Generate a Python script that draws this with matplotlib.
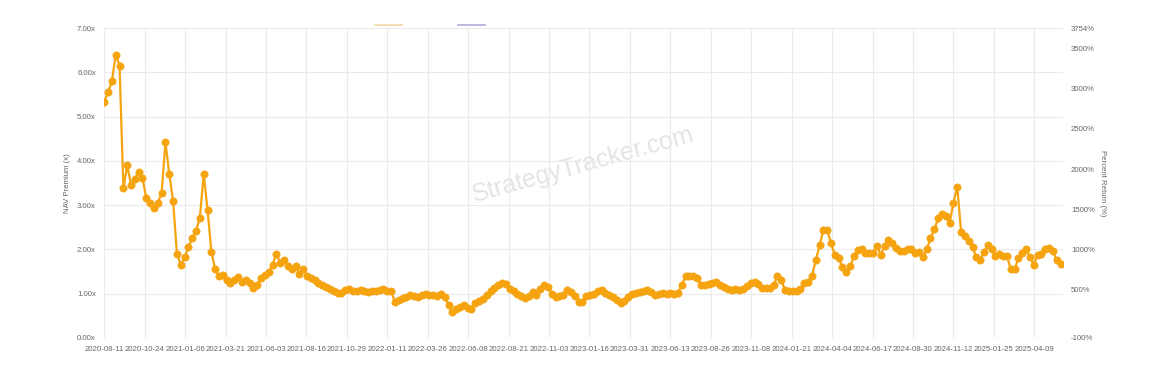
import matplotlib
matplotlib.use("Agg")
import matplotlib.pyplot as plt
import matplotlib.dates as mdates
from matplotlib.lines import Line2D
import pandas as pd
import numpy as np

plt.rcParams['font.family'] = ['Liberation Sans', 'DejaVu Sans']

# ---- data (weekly readings of NAV premium, x) ----
start_date = "2020-08-11"
nav_premium = [
    5.34, 5.55, 5.80, 6.40, 6.15, 3.38, 3.90, 3.46, 3.60, 3.75,
    3.62, 3.15, 3.05, 2.93, 3.05, 3.27, 4.42, 3.70, 3.10, 1.90,
    1.65, 1.82, 2.05, 2.25, 2.42, 2.72, 3.70, 2.90, 1.95, 1.55,
    1.40, 1.42, 1.30, 1.24, 1.30, 1.38, 1.27, 1.30, 1.25, 1.12,
    1.20, 1.35, 1.42, 1.50, 1.65, 1.90, 1.70, 1.75, 1.62, 1.55,
    1.62, 1.45, 1.55, 1.39, 1.35, 1.30, 1.24, 1.20, 1.16, 1.10,
    1.07, 1.02, 1.02, 1.08, 1.10, 1.06, 1.05, 1.08, 1.06, 1.04,
    1.07, 1.05, 1.08, 1.10, 1.07, 1.05, 0.82, 0.86, 0.90, 0.93,
    0.96, 0.95, 0.92, 0.96, 0.99, 0.98, 0.97, 0.95, 0.99, 0.93,
    0.75, 0.58, 0.65, 0.70, 0.75, 0.68, 0.66, 0.78, 0.84, 0.89,
    0.98, 1.05, 1.12, 1.20, 1.25, 1.22, 1.10, 1.05, 1.00, 0.95,
    0.90, 0.95, 1.03, 0.98, 1.10, 1.20, 1.16, 1.00, 0.93, 0.95,
    0.98, 1.08, 1.03, 0.95, 0.82, 0.82, 0.95, 0.98, 1.00, 1.07,
    1.08, 1.02, 0.98, 0.93, 0.86, 0.80, 0.84, 0.92, 0.99, 1.02,
    1.03, 1.05, 1.08, 1.03, 0.97, 1.00, 1.02, 1.00, 1.01, 1.00,
    1.02, 1.20, 1.40, 1.41, 1.40, 1.36, 1.20, 1.20, 1.22, 1.24,
    1.27, 1.20, 1.16, 1.10, 1.08, 1.10, 1.08, 1.10, 1.18, 1.24,
    1.27, 1.22, 1.12, 1.12, 1.14, 1.20, 1.40, 1.30, 1.08, 1.05,
    1.05, 1.05, 1.10, 1.25, 1.27, 1.40, 1.75, 2.10, 2.44, 2.44,
    2.14, 1.88, 1.80, 1.60, 1.50, 1.62, 1.85, 1.98, 2.00, 1.92,
    1.92, 1.93, 2.08, 1.88, 2.08, 2.22, 2.15, 2.04, 1.96, 1.97,
    2.00, 2.01, 1.93, 1.95, 1.82, 2.00, 2.25, 2.45, 2.70, 2.80,
    2.75, 2.60, 3.05, 3.42, 2.40, 2.30, 2.20, 2.05, 1.82, 1.75,
    1.95, 2.10, 2.00, 1.85, 1.90, 1.85, 1.85, 1.55, 1.55, 1.80,
    1.92, 2.00, 1.84, 1.65, 1.88, 1.90, 2.02, 2.03, 1.96, 1.75,
    1.68,
]
left_ticks = [0, 1, 2, 3, 4, 5, 6, 7]
right_ticks = [-100, 500, 1000, 1500, 2000, 2500, 3000, 3500, 3754]
tick_step_days = 74
last_tick = "2025-04-09"

dates = pd.date_range(start_date, periods=len(nav_premium), freq="7D")
xticks = pd.date_range(start_date, last_tick, freq=f"{tick_step_days}D")

ORANGE = "#F5A30F"
GRID = "#ebebeb"
TXT = "#666666"
FS = 5.6

fig = plt.figure(figsize=(11.7, 3.75), dpi=100)
fig.patch.set_facecolor("white")
ax = fig.add_axes([0.0891, 0.0987, 0.8192, 0.8266])

ax.plot(dates, nav_premium, color=ORANGE, linewidth=1.6, marker="o",
        markersize=5.2, markerfacecolor=ORANGE, markeredgecolor=ORANGE,
        markeredgewidth=0.5, zorder=3)

ax.set_xlim(dates[0], dates[-1] + pd.Timedelta(days=4))
ax.set_ylim(left_ticks[0], left_ticks[-1])
ax.set_yticks(left_ticks)
ax.set_yticklabels([f"{v:.2f}x" for v in left_ticks])
ax.set_xticks(xticks)
ax.xaxis.set_major_formatter(mdates.DateFormatter("%Y-%m-%d"))

ax.grid(True, color=GRID, linewidth=0.8, zorder=0)
ax.tick_params(axis="both", length=0, labelsize=FS, colors=TXT)
ax.tick_params(axis="x", pad=6)
ax.tick_params(axis="y", pad=6)
for s in ax.spines.values():
    s.set_visible(False)
ax.set_ylabel("NAV Premium (x)", fontsize=FS, color=TXT, labelpad=4)

ax2 = ax.twinx()
ax2.set_ylim(right_ticks[0], right_ticks[-1])
ax2.set_yticks(right_ticks)
ax2.set_yticklabels([f"{v}%" for v in right_ticks])
ax2.tick_params(axis="y", length=0, labelsize=FS, colors=TXT, pad=6)
for s in ax2.spines.values():
    s.set_visible(False)
ax2.set_ylabel("Percent Return (%)", fontsize=FS, color=TXT, rotation=270,
               labelpad=8)

# watermark
ax.text(0.5, 0.56, "StrategyTracker.com", transform=ax.transAxes,
        fontsize=18, color="#e4e4e4", rotation=15.5, ha="center",
        va="center", zorder=1)

# legend (colored line markers only)
handles = [Line2D([], [], color="#f3d9a6", linewidth=1.2),
           Line2D([], [], color="#aeaadb", linewidth=1.2)]
ax.legend(handles=handles, labels=["", ""], ncol=2, loc="lower center",
          bbox_to_anchor=(0.34, 0.995), frameon=False, fontsize=FS,
          handlelength=3.5, handletextpad=0.0, columnspacing=7.2,
          borderpad=0.0, borderaxespad=0.0)

fig.savefig("out.png", dpi=100, facecolor="white")
